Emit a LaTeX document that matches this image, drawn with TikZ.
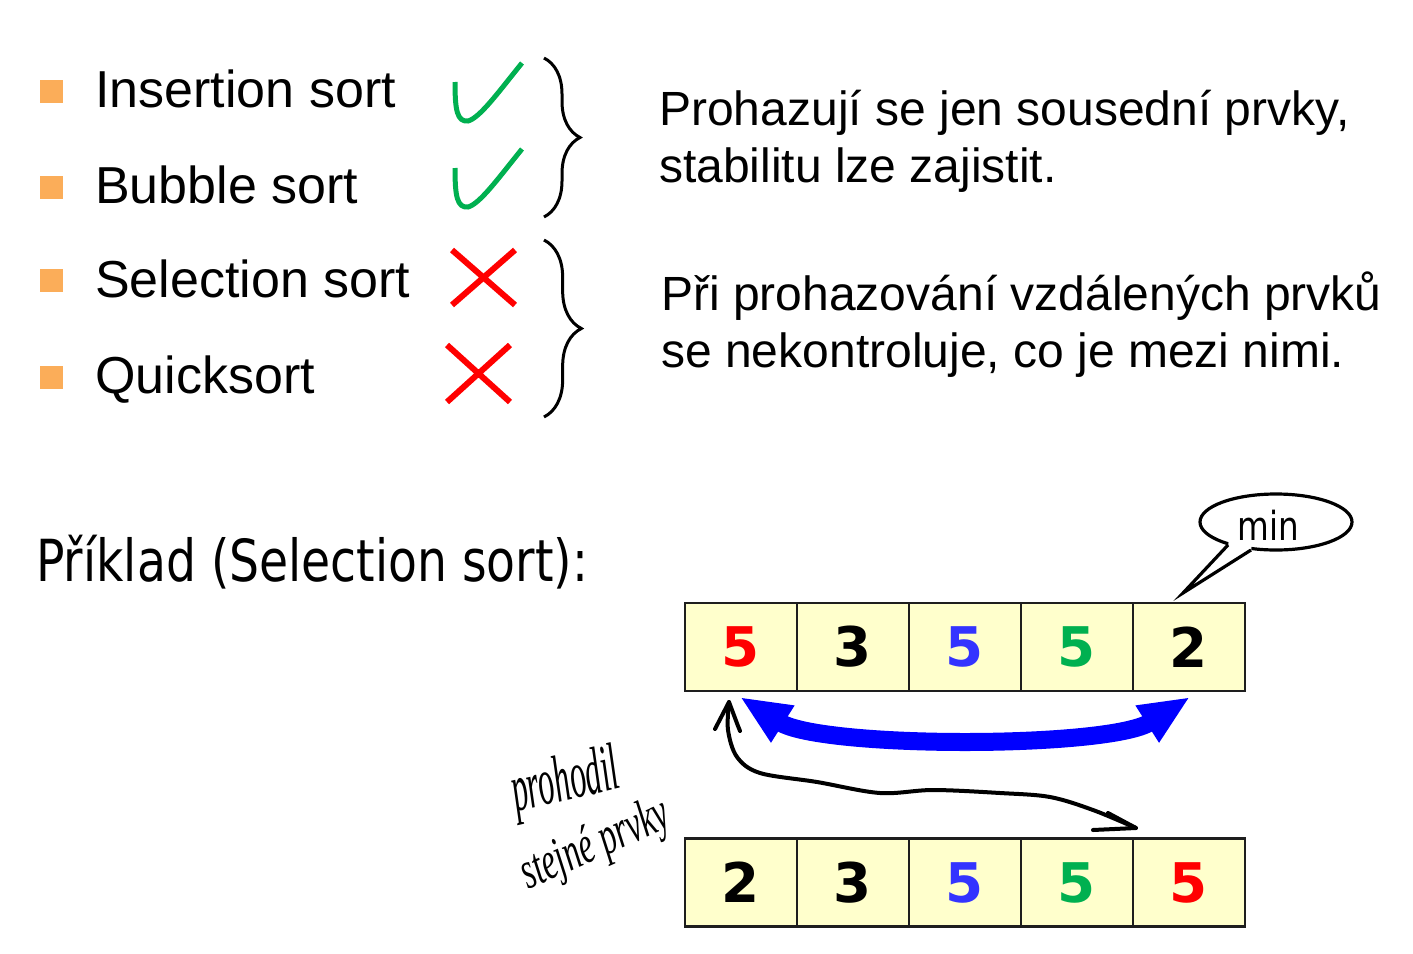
\documentclass[tikz,border=0pt]{standalone}
\usepackage{fontspec}
\setmainfont{Liberation Sans}
\newfontfamily\tah{DejaVu Sans}[FakeStretch=0.815]
\newfontfamily\digitfont{DejaVu Sans}
\newfontfamily\hand{Liberation Serif}
\usetikzlibrary{decorations.pathreplacing,arrows.meta,shapes.geometric,calc}

\definecolor{bulletorange}{RGB}{251,173,89}
\definecolor{checkgreen}{RGB}{0,176,80}
\definecolor{crossred}{RGB}{255,0,0}
\definecolor{cellfill}{RGB}{255,255,204}
\definecolor{cellline}{RGB}{30,30,30}
\definecolor{numred}{RGB}{255,0,0}
\definecolor{numblue}{RGB}{51,51,255}
\definecolor{numgreen}{RGB}{0,176,80}
\definecolor{swapblue}{RGB}{0,0,255}

\begin{document}
\begin{tikzpicture}[x=0.75pt,y=-0.75pt,
  bullet/.style={fill=bulletorange,minimum size=17.25pt,inner sep=0,draw=none},
  item/.style={anchor=base west,inner sep=0,font=\fontsize{39}{47}\selectfont},
  note/.style={anchor=base west,inner sep=0,font=\fontsize{36}{43}\selectfont},
  check/.style={draw=checkgreen,line width=3.75pt},
  cross/.style={draw=crossred,line width=4.5pt},
  groupbrace/.style={draw=black,line width=2.25pt,decorate,decoration={brace,amplitude=#1}},
  cell/.style={draw=cellline,fill=cellfill,line width=1.9pt,minimum width=84pt,minimum height=66pt,inner sep=0,font=\digitfont\bfseries\fontsize{41}{41}\selectfont},
  handtext/.style={anchor=base west,inner sep=0,font=\hand\itshape\fontsize{#1}{#1}\selectfont},
  scrawl/.style={draw=black,line width=3pt,line cap=round,line join=round}]

% canvas
\fill[white] (0,0) rectangle (1413,953);
\useasboundingbox (0,0) rectangle (1413,953);

% list of algorithms
\node[bullet] (b1) at (51,91) {};
\node[bullet] (b2) at (51,187.5) {};
\node[bullet] (b3) at (51,280) {};
\node[bullet] (b4) at (51,377) {};
\node[item] (i1) at (95,107) {Insertion sort};
\node[item] (i2) at (95,203) {Bubble sort};
\node[item] (i3) at (95,297) {Selection sort};
\node[item] (i4) at (95,393) {Quicksort};

% stable / unstable marks
\draw[check] (455,82) .. controls (455,110) and (457,122) .. (468,121) .. controls (480,118) and (500,90) .. (522,63);
\draw[check] (455,168) .. controls (455,196) and (457,208) .. (468,207) .. controls (480,204) and (500,176) .. (522,149);
\draw[cross] (452,250) -- (515,305) (452,305) -- (515,250);
\draw[cross] (447,345) -- (510,402) (447,402) -- (510,345);

% braces grouping the items
\draw[groupbrace=27pt] (544,58) -- (544,217);
\draw[groupbrace=28pt] (544,240) -- (544,417);

% explanations
\node[note] (n1) at (659,125) {Prohazují se jen sousední prvky,};
\node[note] (n2) at (659,182) {stabilitu lze zajistit.};
\node[note] (n3) at (661,310) {Při prohazování vzdálených prvků};
\node[note] (n4) at (661,367) {se nekontroluje, co je mezi nimi.};

% example heading
\node[anchor=base west,inner sep=0,font=\tah\fontsize{43.5}{50}\selectfont] (ex) at (36,581) {Příklad (Selection sort):};

% arrays before and after the swap
\foreach \v/\c [count=\i] in {5/numred,3/black,5/numblue,5/numgreen,2/black}
  \node[cell,text=\c] (t\i) at (685+56+112*\i-112,647) {\v};
\foreach \v/\c [count=\i] in {2/black,3/black,5/numblue,5/numgreen,5/numred}
  \node[cell,text=\c] (u\i) at (685+56+112*\i-112,882.5) {\v};

% speech bubble pointing at the minimum
\node[ellipse,draw=black,line width=2.4pt,fill=white,minimum width=114pt,minimum height=42pt,inner sep=0] (bub) at (1276,522) {};
\fill[white] (1229,536) -- (1252,541) -- (1251,553) -- (1183,593) -- (1228,549) -- cycle;
\coordinate (tip) at (1183,593);
\draw[line width=2.4pt,line join=miter] (1228,545) -- (tip) -- (1251,550);
\node[font=\tah\fontsize{30}{30}\selectfont,inner sep=0,anchor=base] (mn) at (1268,540) {min};

% swap of first and last element
\coordinate (sl) at (740,697);
\coordinate (sr) at (1190,697);
\draw[swapblue,line width=13.5pt,{Triangle[length=38pt,width=30pt]}-{Triangle[length=38pt,width=30pt]}]
  (sl) .. controls (800,735) and (880,742) .. (965,742) .. controls (1050,742) and (1130,735) .. (sr);

% hand-drawn note
\coordinate (ha) at (729,702);
\coordinate (hb) at (1136,828);
\draw[scrawl] plot[smooth,tension=0.55] coordinates {(ha) (728,730) (737,757) (760,773) (817,782) (880,793) (933,790) (1000,793) (1050,797) (1093,810) (hb)};
\draw[scrawl] (715,729) -- (ha) -- (738,726) -- (740,731);
\draw[scrawl] (1108,813) -- (hb) -- (1093,830);
\node[handtext=50,rotate=13] (h1) at (516,812) {\scalebox{0.48}[1]{prohodil}};
\node[handtext=40,rotate=24] (h2) at (528,890) {\scalebox{0.62}[1]{stejné prvky}};
\end{tikzpicture}
\end{document}
